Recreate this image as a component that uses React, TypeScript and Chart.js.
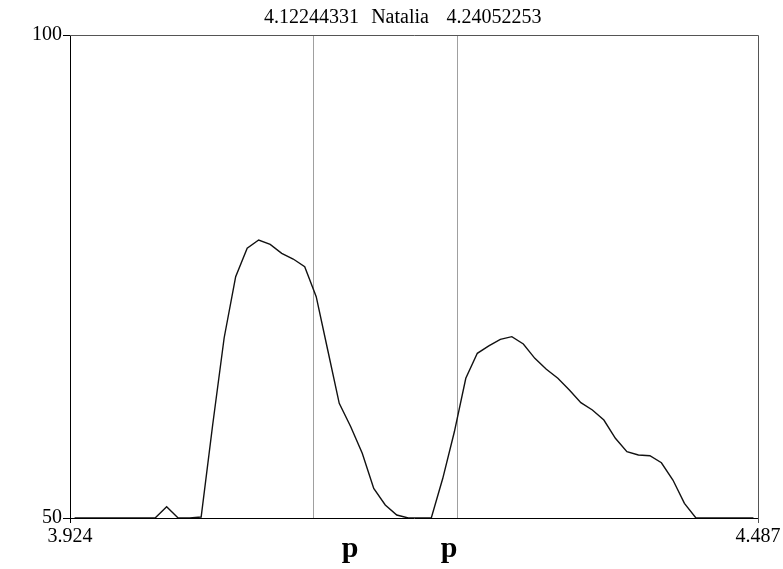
import React, { useEffect, useRef } from "react";
import { Chart, registerables } from "chart.js";

Chart.register(...registerables);

const xValues = [
  3.92775, 3.93716, 3.94658, 3.956, 3.96541, 3.97483, 3.98424, 3.99366, 4.00308, 4.01249,
  4.02191, 4.03132, 4.04074, 4.05016, 4.05957, 4.06899, 4.0784, 4.08782, 4.09724, 4.10665,
  4.11607, 4.12548, 4.1349, 4.14432, 4.15373, 4.16315, 4.17256, 4.18198, 4.1914, 4.20081,
  4.21023, 4.21964, 4.22906, 4.23848, 4.24789, 4.25731, 4.26672, 4.27614, 4.28556, 4.29497,
  4.30439, 4.3138, 4.32322, 4.33264, 4.34205, 4.35147, 4.36088, 4.3703, 4.37972, 4.38913,
  4.39855, 4.40796, 4.41738, 4.4268, 4.43621, 4.44563, 4.45504, 4.46446, 4.47388, 4.48329,
];

const yValues = [
  50, 50, 50, 50, 50, 50, 50, 50, 51.17, 50,
  50, 50.1, 59.63, 68.66, 74.98, 77.92, 78.78, 78.33, 77.4, 76.81,
  76.01, 72.91, 67.39, 61.87, 59.45, 56.7, 53.07, 51.35, 50.31, 50,
  50, 50, 54.11, 58.9, 64.46, 67.05, 67.81, 68.5, 68.77, 68.01,
  66.53, 65.39, 64.46, 63.25, 61.94, 61.18, 60.14, 58.25, 56.86, 56.52,
  56.45, 55.72, 53.93, 51.52, 50, 50, 50, 50, 50, 50,
];

const xTickValues = [3.924, 4.487];
const xTickLabels = ["3.924", "4.487"];
const yTickValues = [50, 100];
const yTickLabels = ["50", "100"];

const markerValues = [4.12244331, 4.24052253];
const markerLabels = ["4.12244331", "4.24052253"];
const sampleName = "Natalia";
const peakLetters = ["p", "p"];

const SERIF = '"Liberation Serif", "Times New Roman", serif';

export default function App() {
  const canvasRef = useRef<HTMLCanvasElement | null>(null);

  useEffect(() => {
    const canvas = canvasRef.current;
    if (!canvas) return;

    const overlay = {
      id: "overlay",
      beforeDatasetsDraw(chart: any) {
        const ctx = chart.ctx;
        const { top, bottom, left, right } = chart.chartArea;
        const xs = chart.scales.x;
        ctx.save();
        ctx.strokeStyle = "#a0a0a0";
        ctx.lineWidth = 1;
        markerValues.forEach((v) => {
          const px = Math.round(xs.getPixelForValue(v)) + 0.5;
          ctx.beginPath();
          ctx.moveTo(px, top);
          ctx.lineTo(px, bottom);
          ctx.stroke();
        });
        ctx.strokeStyle = "#555555";
        ctx.beginPath();
        ctx.moveTo(left, top + 0.5);
        ctx.lineTo(Math.round(right) + 0.5, top + 0.5);
        ctx.lineTo(Math.round(right) + 0.5, bottom + 5);
        ctx.stroke();
        ctx.restore();
      },
      afterDraw(chart: any) {
        const ctx = chart.ctx;
        const xs = chart.scales.x;
        ctx.save();
        ctx.fillStyle = "#000";
        ctx.textBaseline = "alphabetic";
        ctx.textAlign = "center";
        ctx.font = `20px ${SERIF}`;
        const p1 = xs.getPixelForValue(markerValues[0]);
        ctx.fillText(markerLabels[0], p1 - 1, 23);
        ctx.fillText(sampleName, 400, 23);
        ctx.fillText(markerLabels[1], 494, 23);
        ctx.font = `bold 30px ${SERIF}`;
        ctx.fillText(peakLetters[0], 350, 557);
        ctx.fillText(peakLetters[1], 449, 557);
        ctx.restore();
      },
    };

    const chart = new Chart(canvas, {
      type: "line",
      data: {
        datasets: [
          {
            data: xValues.map((x, i) => ({ x, y: yValues[i] })),
            borderColor: "#111111",
            borderWidth: 1.4,
            pointRadius: 0,
            tension: 0,
            fill: false,
          },
        ],
      },
      options: {
        animation: false,
        responsive: true,
        maintainAspectRatio: false,
        layout: { padding: { left: 0, top: 35, right: 25, bottom: 0 } },
        plugins: {
          legend: { display: false },
          tooltip: { enabled: false },
          title: { display: false },
        },
        scales: {
          x: {
            type: "linear",
            min: xTickValues[0],
            max: xTickValues[1],
            afterBuildTicks: (s: any) => {
              s.ticks = xTickValues.map((v) => ({ value: v }));
            },
            afterFit: (s: any) => {
              s.height = 51;
            },
            ticks: {
              autoSkip: false,
              maxRotation: 0,
              padding: 2,
              color: "#000",
              font: { family: SERIF, size: 20 },
              callback: (v: any) => {
                const i = xTickValues.indexOf(Number(v));
                return i >= 0 ? xTickLabels[i] : "";
              },
            },
            grid: {
              drawOnChartArea: false,
              drawTicks: true,
              tickLength: 5,
              color: "#000",
            },
            border: { display: true, color: "#000", width: 1 },
          },
          y: {
            type: "linear",
            min: yTickValues[0],
            max: yTickValues[1],
            afterBuildTicks: (s: any) => {
              s.ticks = yTickValues.map((v) => ({ value: v }));
            },
            afterFit: (s: any) => {
              s.width = 70;
            },
            ticks: {
              autoSkip: false,
              padding: 1,
              color: "#000",
              font: { family: SERIF, size: 20 },
              callback: (v: any) => {
                const i = yTickValues.indexOf(Number(v));
                return i >= 0 ? yTickLabels[i] : "";
              },
            },
            grid: {
              drawOnChartArea: false,
              drawTicks: true,
              tickLength: 7,
              color: "#000",
            },
            border: { display: true, color: "#000", width: 1 },
          },
        },
      },
      plugins: [overlay],
    });

    return () => {
      chart.destroy();
    };
  }, []);

  return (
    <div style={{ position: "fixed", left: 0, top: 0, width: 783, height: 569, background: "#fff" }}>
      <canvas ref={canvasRef} />
    </div>
  );
}
